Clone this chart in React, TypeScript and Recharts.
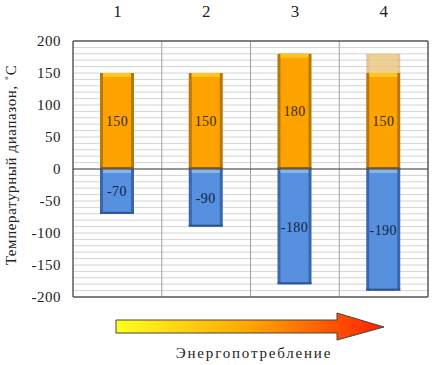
import React from 'react';
import {
  Bar,
  BarChart,
  CartesianGrid,
  Customized,
  LabelList,
  ReferenceLine,
  XAxis,
  YAxis,
} from 'recharts';

const categories = ['1', '2', '3', '4'];
const heating = [150, 150, 180, 150];
const cooling = [-70, -90, -180, -190];
const reserve = [0, 0, 0, 30];

const yTicks = [-200, -150, -100, -50, 0, 50, 100, 150, 200];
const gridTicks = [
  -200, -190, -180, -170, -160, -150, -140, -130, -120, -110, -100, -90, -80, -70, -60, -50, -40, -30, -20,
  -10, 0, 10, 20, 30, 40, 50, 60, 70, 80, 90, 100, 110, 120, 130, 140, 150, 160, 170, 180, 190, 200,
];

const yTitle = 'Температурный диапазон, ˚С';
const arrowTitle = 'Энергопотребление';

const data = categories.map((cat, i) => ({
  cat,
  heating: heating[i],
  cooling: cooling[i],
  reserve: reserve[i],
}));

const FONT = '"Liberation Serif", serif';

const ORANGE = { edge: '#b87808', body: '#fca300', top: '#ffc51c', bottom: '#9a6406' };
const BLUE = { edge: '#3a66ad', body: '#5690df', top: '#86b3ee', bottom: '#2f5590' };

function makeBevel(c: typeof ORANGE) {
  return (props: any) => {
    let { x, y, width, height } = props;
    if (height < 0) {
      y += height;
      height = -height;
    }
    if (!height) return <g />;
    return (
      <g>
        <rect x={x} y={y} width={width} height={height} fill={c.edge} />
        <rect x={x + 3} y={y} width={width - 6} height={height} fill={c.body} />
        <rect x={x + 3} y={y} width={width - 6} height={Math.min(4, height)} fill={c.top} />
        <rect x={x} y={y + height - 2} width={width} height={2} fill={c.bottom} />
      </g>
    );
  };
}

function ReserveShape(props: any) {
  const { x, y, width, height } = props;
  if (!height) return <g />;
  return (
    <g>
      <rect x={x} y={y} width={width} height={height} fill="#c89040" fillOpacity={0.5} />
      <rect x={x + 3} y={y} width={width - 6} height={height} fill="#f5d590" fillOpacity={0.6} />
    </g>
  );
}

function CatTick(props: any) {
  const { x, y, payload } = props;
  return (
    <text x={x} y={y - 16} textAnchor="middle" fontSize={17} fontFamily={FONT} fill="#222">
      {payload.value}
    </text>
  );
}

function YTick(props: any) {
  const { x, y, payload } = props;
  return (
    <text x={x} y={y + 5} textAnchor="end" fontSize={15} letterSpacing={0.5} fontFamily={FONT} fill="#222">
      {payload.value}
    </text>
  );
}

function BarLabel(color: string) {
  return (props: any) => {
    let { x, y, width, height, value } = props;
    if (height < 0) {
      y += height;
      height = -height;
    }
    return (
      <text
        x={x + width / 2}
        y={y + height / 2 + 5}
        textAnchor="middle"
        fontSize={14}
        letterSpacing={0.4}
        fontFamily={FONT}
        fill={color}
      >
        {value}
      </text>
    );
  };
}

function Decor() {
  return (
    <g>
      <defs>
        <linearGradient id="energy" x1="0" y1="0" x2="1" y2="0">
          <stop offset="0%" stopColor="#ffff20" />
          <stop offset="50%" stopColor="#ffa500" />
          <stop offset="100%" stopColor="#ff2000" />
        </linearGradient>
      </defs>
      <path
        d="M116 320 L337 320 L337 313 L384 327 L337 340 L337 333 L116 333 Z"
        fill="url(#energy)"
        stroke="#444"
        strokeWidth={1}
      />
      <text
        x={254}
        y={358}
        textAnchor="middle"
        fontSize={15}
        letterSpacing={1.8}
        fontFamily={FONT}
        fill="#222"
      >
        {arrowTitle}
      </text>
    </g>
  );
}

const fineLines = ({ yAxis, offset }: any) => {
  if (yAxis && typeof yAxis.scale === 'function') return gridTicks.map((v) => yAxis.scale(v));
  return gridTicks.map((v) => offset.top + (offset.height * (200 - v)) / 400);
};

export default function App() {
  return (
    <div style={{ position: 'absolute', left: 0, top: 0, width: 432, height: 365, background: '#fff' }}>
      <BarChart
        width={432}
        height={365}
        data={data}
        stackOffset="sign"
        barSize={34}
        margin={{ top: 0, right: 4, left: 0, bottom: 68 }}
      >
        <CartesianGrid vertical={false} stroke="#d4d4d4" horizontalCoordinatesGenerator={fineLines} />
        <CartesianGrid
          horizontal={false}
          stroke="#a0a0a0"
          verticalCoordinatesGenerator={({ offset }: any) =>
            [1, 2, 3].map((i) => offset.left + (offset.width * i) / 4)
          }
        />
        <CartesianGrid
          stroke="#5a5a5a"
          strokeWidth={1.5}
          horizontalCoordinatesGenerator={({ offset }: any) => [offset.top, offset.top + offset.height]}
          verticalCoordinatesGenerator={({ offset }: any) => [offset.left, offset.left + offset.width]}
        />
        <XAxis
          dataKey="cat"
          orientation="top"
          height={41}
          axisLine={false}
          tickLine={false}
          tick={<CatTick />}
        />
        <YAxis
          domain={[-200, 200]}
          ticks={yTicks}
          interval={0}
          width={73}
          axisLine={false}
          tickLine={false}
          tickMargin={6}
          tick={<YTick />}
          label={{
            content: () => (
              <text
                transform="translate(16,165) rotate(-90)"
                textAnchor="middle"
                fontSize={15}
                letterSpacing={0.6}
                fontFamily={FONT}
                fill="#222"
              >
                {yTitle}
              </text>
            ),
          }}
        />
        <Bar dataKey="heating" stackId="a" shape={makeBevel(ORANGE)} isAnimationActive={false}>
          <LabelList dataKey="heating" content={BarLabel('#3a2a00')} />
        </Bar>
        <Bar dataKey="cooling" stackId="a" shape={makeBevel(BLUE)} isAnimationActive={false}>
          <LabelList dataKey="cooling" content={BarLabel('#0f2444')} />
        </Bar>
        <Bar dataKey="reserve" stackId="a" shape={<ReserveShape />} isAnimationActive={false} />
        <ReferenceLine y={0} stroke="#444" strokeWidth={1} />
        <Customized component={<Decor />} />
      </BarChart>
    </div>
  );
}
